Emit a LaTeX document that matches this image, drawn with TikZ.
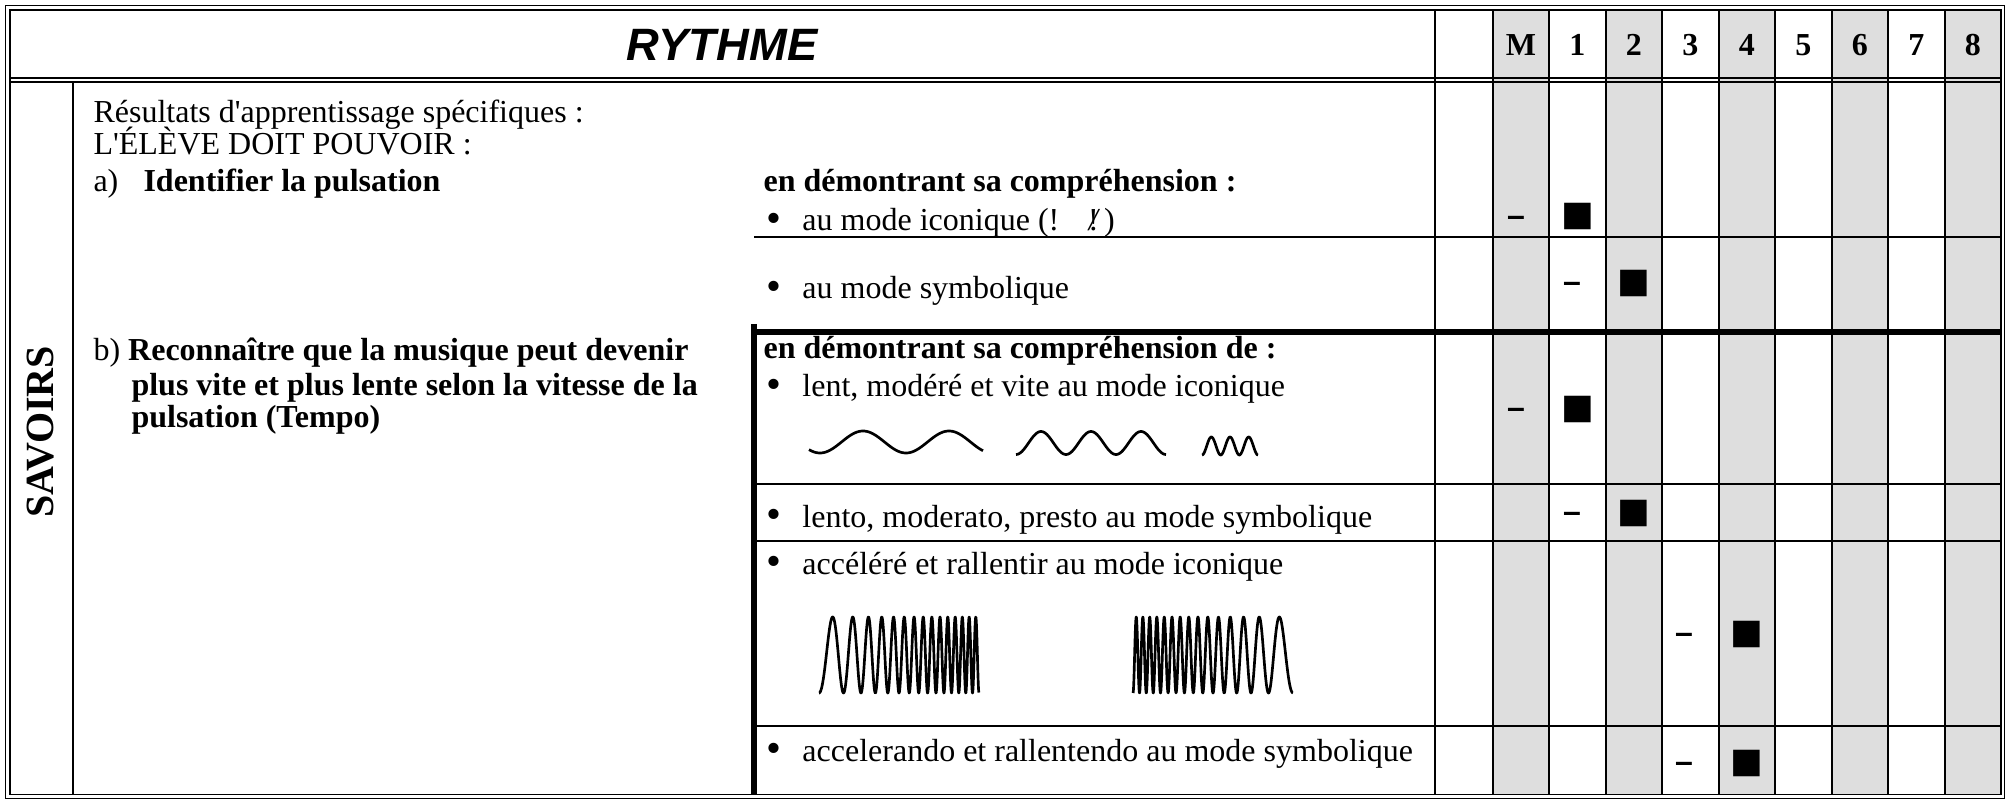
\documentclass[tikz,border=0pt]{standalone}
\usepackage{fontspec}
\setmainfont{Liberation Serif}[Ligatures=TeXOff]
\newfontfamily\headfont{Liberation Sans}
\newfontfamily\symfont{DejaVu Sans}
\usetikzlibrary{positioning}
\definecolor{cellgrey}{RGB}{222,222,222}
% one bullet line of the right-hand column
\newcommand\puce[3]{\node[txt] (#1) at (763,#2) {\makebox[14.6pt][l]{\hspace{1pt}\raisebox{-0.4pt}{\fontsize{16}{16}\selectfont\textbullet}}#3};}

\begin{document}
\begin{tikzpicture}[x=0.375pt,y=-0.375pt,
    txt/.style={anchor=base west,inner sep=0pt,font=\fontsize{12}{14}\selectfont},
    hdr/.style={inner sep=0pt,font=\bfseries\fontsize{12}{14}\selectfont},
    rule/.style={line width=0.75pt},
    heavyrule/.style={line width=1.9pt},
    frame/.style={line width=0.5pt},
    wave/.style={line width=1pt,line join=round},
    dashmk/.style={inner sep=0pt,font=\headfont\bfseries\fontsize{12}{12}\selectfont},
    sqmk/.style={inner sep=0pt,font=\symfont\fontsize{13}{13}\selectfont}]
  \useasboundingbox (0,0) rectangle (2007,801);
  \fill[white] (0,0) rectangle (2007,801);
  % grey columns M, 2, 4, 6, 8
  \foreach \c in {0,2,4,6,8}
    \fill[cellgrey] (1492.7+\c*56.48,10) rectangle ++(56.48,784.3);
  % outer double frame
  \draw[frame] (5.7,5.7) rectangle (2004.3,798.3);
  \draw[frame] (10,10) rectangle (2001,794.3);
  % header rules
  \draw[rule] (10,78) -- (2001,78);
  \draw[rule] (10,82) -- (2001,82);
  % column rules
  \draw[rule] (73.3,82) -- (73.3,794.3);
  \draw[rule] (1435,10) -- (1435,794.3);
  \foreach \c in {0,...,8}
    \draw[rule] (1492.7+\c*56.48,10) -- (1492.7+\c*56.48,794.3);
  % row rules
  \foreach \y in {237,484,541,726}
    \draw[rule] (754,\y) -- (2001,\y);
  \draw[heavyrule] (754,332) -- (2001,332);
  \draw[heavyrule] (754,324) -- (754,794.3);

  % header
  \node[font=\headfont\bfseries\itshape\fontsize{17}{17}\selectfont,inner sep=0pt] (title) at (722,45) {RYTHME};
  \foreach \lab [count=\k from 0] in {M,1,2,3,4,5,6,7,8}
    \node[hdr] (h\lab) at (1520.9+\k*56.48,45) {\lab};

  \node[rotate=90,inner sep=0pt,font=\bfseries\fontsize{15}{15}\selectfont] (savoirs) at (41,432) {SAVOIRS};

  % left column
  \node[txt] (res) at (93,123) {Résultats d'apprentissage spécifiques :};
  \node[txt] (eleve) at (93,155) {L'ÉLÈVE DOIT POUVOIR :};
  \node[txt] (pa) at (93,192) {a)};
  \node[txt] (obja) at (143,192) {\bfseries Identifier la pulsation};
  \node[txt] (pb) at (93,361) {b) \bfseries Reconnaître que la musique peut devenir};
  \node[txt] (objb2) at (131,396) {\bfseries plus vite et plus lente selon la vitesse de la};
  \node[txt] (objb3) at (131,428) {\bfseries pulsation (Tempo)};

  % right column
  \node[txt] (dema) at (763,192) {\bfseries en démontrant sa compréhension :};
  \puce{ica}{231}{au mode iconique (!\hspace{0.9em}\ooalign{\hfil!\hfil\cr\hfil\itshape/\hfil\cr}\,)}
  \puce{syma}{299}{au mode symbolique}
  \node[txt] (demb) at (763,359) {\bfseries en démontrant sa compréhension de :};
  \puce{icb}{397}{lent, modéré et vite au mode iconique}
  \puce{symb}{527}{lento, moderato, presto au mode symbolique}
  \puce{icc}{574}{accéléré et rallentir au mode iconique}
  \puce{symc}{761}{accelerando et rallentendo au mode symbolique}

  % lent, modere, vite
  \draw[wave] plot[domain=809:983,samples=120] (\x,{442-11*sin(90+(\x-863)/86*360)});
  \draw[wave] plot[domain=1016:1166,samples=150] (\x,{443+11.5*cos((\x-1016)/50*360)});
  \draw[wave] plot[domain=1202:1258,samples=90] (\x,{446+9*cos((\x-1202)/18.67*360)});
  % accelere, rallenti
  \draw[wave] plot[domain=0:1,samples=700] ({819+160*\x},{655+38*cos(360*(5*\x+10*\x*\x))});
  \draw[wave] plot[domain=0:1,samples=700] ({1133+160*\x},{655+38*cos(360*(25*\x-10*\x*\x))});

  % marks: row / dash column / square column / height
  \foreach \r/\dx/\sx/\y in {A/1516/1577.4/217, B/1572/1633.9/283,
      C/1516/1577.4/409, D/1572/1633.9/513, E/1684/1746.8/634, F/1684/1746.8/763} {
    \node[dashmk] (d\r) at (\dx,\y+4) {–};
    \node[sqmk] (s\r) at (\sx,\y) {■};
  }
\end{tikzpicture}
\end{document}
